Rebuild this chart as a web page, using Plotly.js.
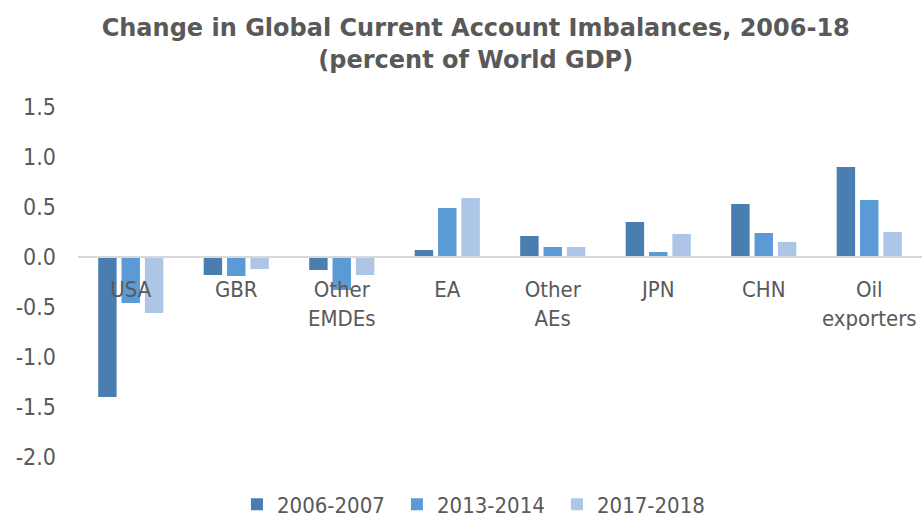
<!DOCTYPE html>
<html><head><meta charset="utf-8">
<script src="https://cdn.plot.ly/plotly-3.0.1.min.js"></script>
<style>html,body{margin:0;padding:0;background:#fff}#chart{width:922px;height:519px}</style>
</head><body><div id="chart"></div>
<script>
const categories = ["USA", "GBR", "Other<br>EMDEs", "EA", "Other<br>AEs", "JPN", "CHN", "Oil<br>exporters"];
const seriesNames = ["2006-2007", "2013-2014", "2017-2018"];
const v2006 = [-1.40, -0.18, -0.13, 0.07, 0.21, 0.35, 0.53, 0.90];
const v2013 = [-0.46, -0.19, -0.33, 0.49, 0.10, 0.05, 0.24, 0.57];
const v2017 = [-0.56, -0.12, -0.18, 0.59, 0.10, 0.23, 0.15, 0.25];
const yTicks = [1.5, 1.0, 0.5, 0.0, -0.5, -1.0, -1.5, -2.0];
const colors = ["#4A7EB0", "#5B9BD5", "#ADC6E7"];
const FONT = "'DejaVu Sans Condensed', 'DejaVu Sans', sans-serif";
const TFONT = "'DejaVu Sans', sans-serif";
const TXT = "#595959";
const yMin = -2.0, yMax = 1.5;
const traces = [v2006, v2013, v2017].map((vals, i) => ({
  type: "bar", name: seriesNames[i], x: categories, y: vals,
  marker: {color: colors[i], line: {width: 0}}, hoverinfo: "skip"
}));
const layout = {
  width: 922, height: 519,
  margin: {l: 78, r: 0, t: 107, b: 62, autoexpand: false},
  paper_bgcolor: "#fff", plot_bgcolor: "#fff",
  font: {family: FONT, color: TXT, size: 22},
  title: {text: "<b>Change in Global Current Account Imbalances, 2006-18<br>(percent of World GDP)</b>",
          font: {family: TFONT, size: 24, color: TXT}, x: 0.516, xanchor: "center", y: 0.93, yanchor: "top"},
  barmode: "group", bargap: 0.336, bargroupgap: 0.21,
  showlegend: true,
  legend: {orientation: "h", xref: "container", yref: "container", x: 0.257, xanchor: "left",
           y: 0.028, yanchor: "middle",
           font: {family: FONT, size: 22, color: TXT}, itemwidth: 30, traceorder: "normal",
           entrywidth: 115, entrywidthmode: "pixels"},
  xaxis: {type: "category", anchor: "free", position: (0 - yMin) / (yMax - yMin),
          showline: true, linecolor: "#D9D9D9", linewidth: 2, ticks: "", showgrid: false,
          ticklabelstandoff: 13, automargin: false,
          tickfont: {family: FONT, size: 22, color: TXT}, zeroline: false, fixedrange: true},
  yaxis: {range: [yMin, yMax], tickvals: yTicks, ticktext: yTicks.map(v => v.toFixed(1)),
          showgrid: false, zeroline: false, showline: false, ticks: "",
          ticklabelstandoff: 21, automargin: false,
          tickfont: {family: FONT, size: 23, color: TXT}, fixedrange: true}
};
Plotly.newPlot("chart", traces, layout, {displayModeBar: false, staticPlot: true});
</script></body></html>
